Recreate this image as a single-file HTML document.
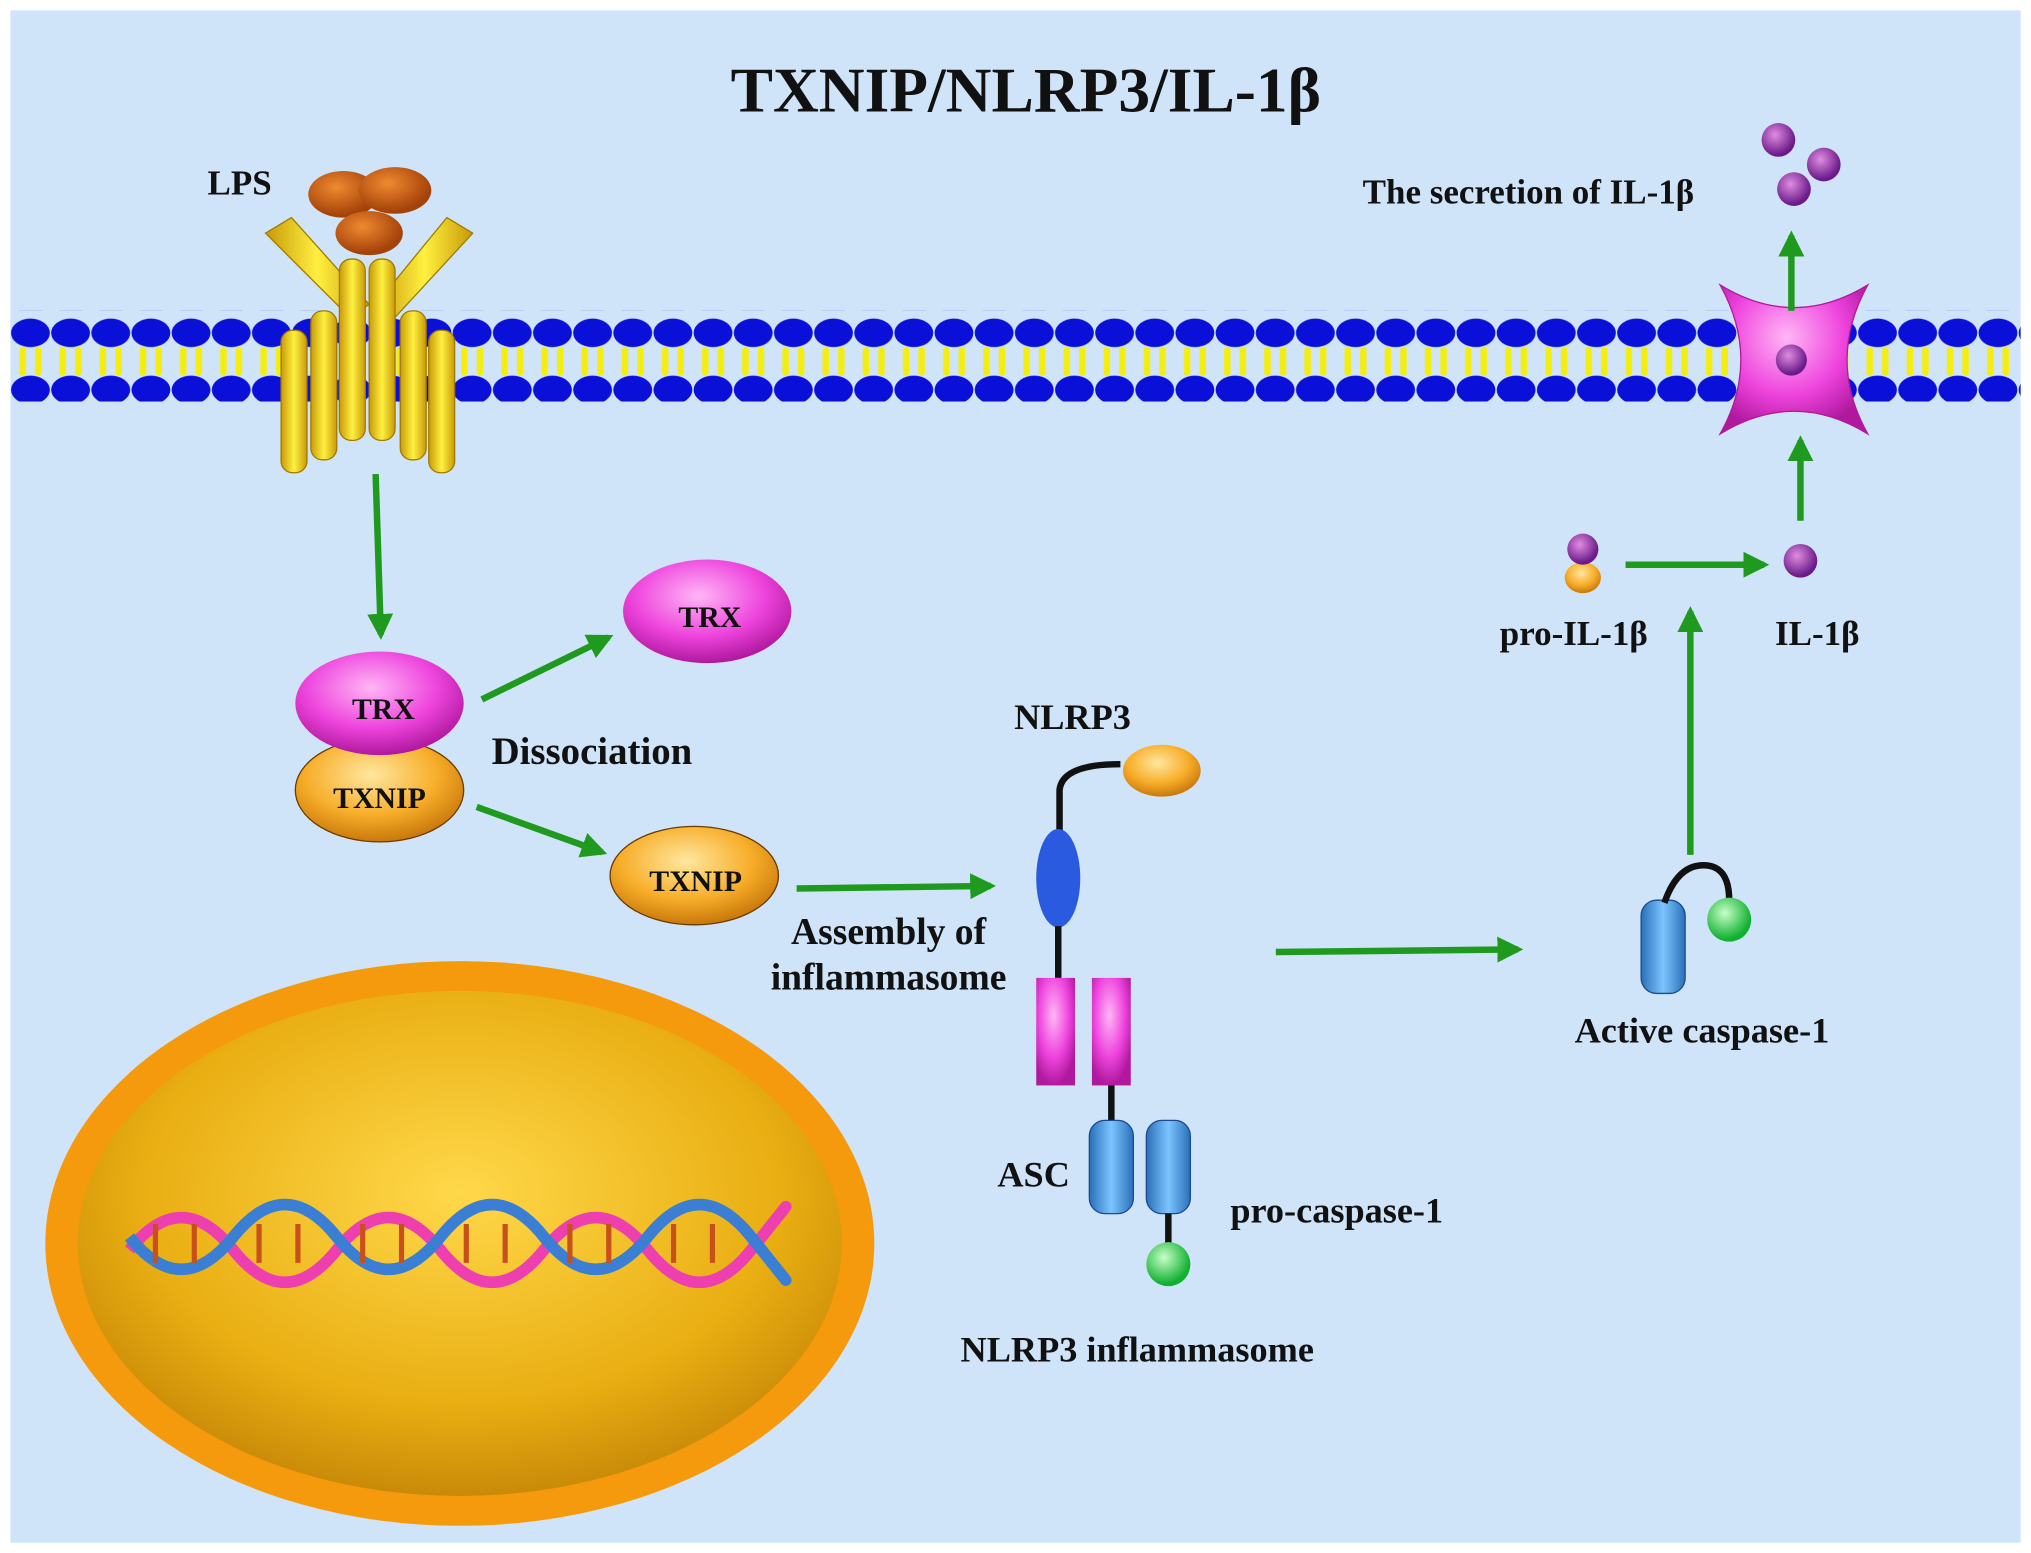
<!DOCTYPE html>
<html><head><meta charset="utf-8"><style>
html,body{margin:0;padding:0;background:#fff}
svg{display:block}
text{font-family:"Liberation Serif",serif;font-weight:bold;fill:#111}
</style></head><body>
<svg width="2031" height="1553" viewBox="0 0 1568 1199" preserveAspectRatio="none" xmlns="http://www.w3.org/2000/svg">
<defs>
<radialGradient id="nuc" cx="50%" cy="40%" r="60%"><stop offset="0" stop-color="#ffd84a"/><stop offset="0.7" stop-color="#e9ae12"/><stop offset="1" stop-color="#c98a08"/></radialGradient>
<radialGradient id="pink" cx="45%" cy="35%" r="65%"><stop offset="0" stop-color="#ffb6f6"/><stop offset="0.6" stop-color="#ee44dd"/><stop offset="1" stop-color="#b0189e"/></radialGradient>
<radialGradient id="org" cx="45%" cy="35%" r="65%"><stop offset="0" stop-color="#ffe7a0"/><stop offset="0.6" stop-color="#f7ae2a"/><stop offset="1" stop-color="#c9780a"/></radialGradient>
<radialGradient id="purp" cx="40%" cy="35%" r="60%"><stop offset="0" stop-color="#e08ce0"/><stop offset="1" stop-color="#6a1a8a"/></radialGradient>
<radialGradient id="brn" cx="40%" cy="35%" r="60%"><stop offset="0" stop-color="#f08a30"/><stop offset="1" stop-color="#a4420a"/></radialGradient>
<linearGradient id="yel" x1="0" x2="1"><stop offset="0" stop-color="#c89a08"/><stop offset="0.5" stop-color="#fff040"/><stop offset="1" stop-color="#c89a08"/></linearGradient>
<linearGradient id="cas" x1="0" x2="1"><stop offset="0" stop-color="#2a6fb8"/><stop offset="0.5" stop-color="#7cc4ff"/><stop offset="1" stop-color="#2a6fb8"/></linearGradient>
<radialGradient id="grn" cx="40%" cy="35%" r="60%"><stop offset="0" stop-color="#c8ffc8"/><stop offset="1" stop-color="#10b030"/></radialGradient>
<marker id="ah" viewBox="0 0 10 10" refX="8" refY="5" markerWidth="4" markerHeight="4" orient="auto"><path d="M0,0L10,5L0,10z" fill="#1f9a1f"/></marker>
<pattern id="mem" width="31" height="70" patternUnits="userSpaceOnUse" x="8" y="240">
<ellipse cx="15.5" cy="17" rx="15" ry="11" fill="#0a10d8"/>
<ellipse cx="15.5" cy="61" rx="15" ry="11" fill="#0a10d8"/>
<rect x="7" y="28" width="5" height="22" rx="2" fill="#f4ee10"/><rect x="19" y="28" width="5" height="22" rx="2" fill="#f4ee10"/>
</pattern>
</defs>
<rect width="1568" height="1199" fill="#fff"/>
<rect x="8" y="8" width="1552" height="1183" fill="#cfe4f8"/>
<rect x="8" y="240" width="1552" height="73" fill="url(#mem)"/>
<text x="792" y="86" font-size="49" text-anchor="middle">TXNIP/NLRP3/IL-1β</text>
<!-- LPS receptor -->
<text x="185" y="150" font-size="27" text-anchor="middle">LPS</text>
<g fill="url(#yel)" stroke="#a07a00" stroke-width="1">
<path d="M205,180 L225,168 L285,235 L270,245z"/><path d="M365,180 L345,168 L290,235 L305,245z"/>
<rect x="217" y="255" width="20" height="110" rx="9"/><rect x="240" y="240" width="20" height="115" rx="9"/><rect x="262" y="200" width="20" height="140" rx="9"/><rect x="285" y="200" width="20" height="140" rx="9"/><rect x="309" y="240" width="20" height="115" rx="9"/><rect x="331" y="255" width="20" height="110" rx="9"/>
</g>
<ellipse cx="265" cy="150" rx="27" ry="18" fill="url(#brn)"/><ellipse cx="305" cy="147" rx="28" ry="18" fill="url(#brn)"/><ellipse cx="285" cy="180" rx="26" ry="17" fill="url(#brn)"/>
<!-- channel -->
<path d="M1328,220 Q1385,255 1442,220 Q1410,278 1442,335 Q1385,300 1328,335 Q1360,278 1328,220z" fill="url(#pink)" stroke="#b0189e"/>
<circle cx="1383" cy="278" r="12" fill="url(#purp)"/>
<!-- arrows -->
<g stroke="#1f9a1f" stroke-width="5" fill="none" marker-end="url(#ah)">
<line x1="290" y1="366" x2="294" y2="490"/>
<line x1="372" y1="540" x2="470" y2="492"/>
<line x1="368" y1="623" x2="465" y2="658"/>
<line x1="615" y1="686" x2="765" y2="684"/>
<line x1="985" y1="735" x2="1172" y2="733"/>
<line x1="1305" y1="660" x2="1305" y2="472"/>
<line x1="1255" y1="436" x2="1362" y2="436"/>
<line x1="1390" y1="402" x2="1390" y2="340"/>
<line x1="1383" y1="240" x2="1383" y2="182"/>
</g>
<!-- IL-1b dots -->
<circle cx="1373" cy="108" r="13" fill="url(#purp)"/><circle cx="1408" cy="127" r="13" fill="url(#purp)"/><circle cx="1385" cy="146" r="13" fill="url(#purp)"/>
<circle cx="1390" cy="433" r="13" fill="url(#purp)"/>
<ellipse cx="1222" cy="446" rx="14" ry="12" fill="url(#org)"/><circle cx="1222" cy="424" r="12" fill="url(#purp)"/>
<text x="1180" y="157" font-size="27" text-anchor="middle">The secretion of IL-1β</text>
<text x="1215" y="498" font-size="27" text-anchor="middle">pro-IL-1β</text>
<text x="1403" y="498" font-size="27" text-anchor="middle">IL-1β</text>
<!-- TRX/TXNIP -->
<ellipse cx="293" cy="610" rx="65" ry="40" fill="url(#org)" stroke="#6a3a00"/>
<text x="293" y="624" font-size="23" text-anchor="middle">TXNIP</text>
<ellipse cx="293" cy="543" rx="65" ry="40" fill="url(#pink)"/>
<text x="296" y="555" font-size="23" text-anchor="middle">TRX</text>
<ellipse cx="546" cy="472" rx="65" ry="40" fill="url(#pink)"/>
<text x="548" y="484" font-size="23" text-anchor="middle">TRX</text>
<ellipse cx="536" cy="676" rx="65" ry="38" fill="url(#org)" stroke="#6a3a00"/>
<text x="537" y="688" font-size="23" text-anchor="middle">TXNIP</text>
<text x="457" y="590" font-size="30" text-anchor="middle">Dissociation</text>
<text x="686" y="729" font-size="29" text-anchor="middle">Assembly of</text>
<text x="686" y="764" font-size="29" text-anchor="middle">inflammasome</text>
<!-- NLRP3 -->
<text x="828" y="563" font-size="28" text-anchor="middle">NLRP3</text>
<path d="M818,650 L818,610 Q820,590 865,590" stroke="#111" stroke-width="5" fill="none"/>
<ellipse cx="897" cy="595" rx="30" ry="20" fill="url(#org)"/>
<ellipse cx="817" cy="678" rx="17" ry="38" fill="#2a5ae0"/>
<line x1="817" y1="715" x2="817" y2="755" stroke="#111" stroke-width="5"/>
<rect x="800" y="755" width="30" height="83" fill="url(#pink)"/>
<rect x="843" y="755" width="30" height="83" fill="url(#pink)"/>
<line x1="858" y1="838" x2="858" y2="868" stroke="#111" stroke-width="5"/>
<rect x="841" y="865" width="34" height="72" rx="12" fill="url(#cas)" stroke="#1a4a90"/>
<rect x="885" y="865" width="34" height="72" rx="12" fill="url(#cas)" stroke="#1a4a90"/>
<line x1="902" y1="937" x2="902" y2="962" stroke="#111" stroke-width="5"/>
<ellipse cx="902" cy="976" rx="17" ry="17" fill="url(#grn)"/>
<text x="798" y="916" font-size="28" text-anchor="middle">ASC</text>
<text x="1032" y="944" font-size="28" text-anchor="middle">pro-caspase-1</text>
<text x="878" y="1051" font-size="28" text-anchor="middle">NLRP3 inflammasome</text>
<!-- active caspase -->
<rect x="1267" y="695" width="34" height="72" rx="12" fill="url(#cas)" stroke="#1a4a90"/>
<path d="M1285,697 Q1295,668 1315,668 Q1335,668 1335,695" stroke="#111" stroke-width="5" fill="none"/>
<ellipse cx="1335" cy="710" rx="17" ry="17" fill="url(#grn)"/>
<text x="1314" y="805" font-size="28" text-anchor="middle">Active caspase-1</text>
<!-- nucleus -->
<ellipse cx="355" cy="960" rx="320" ry="218" fill="#f59a0c"/>
<ellipse cx="355" cy="960" rx="295" ry="195" fill="url(#nuc)"/>
<g stroke-width="9" fill="none">
<path d="M100,965 Q140,915 180,965 T260,965 T340,965 T420,965 T500,965 T580,965 T600,940" stroke="#ee3fb0"/>
<path d="M100,955 Q140,1005 180,955 T260,955 T340,955 T420,955 T500,955 T580,955 T600,980" stroke="#3b7fd4"/>
</g>
<g stroke="#c8501a" stroke-width="4">
<line x1="120" y1="945" x2="120" y2="975"/><line x1="150" y1="945" x2="150" y2="975"/><line x1="200" y1="945" x2="200" y2="975"/><line x1="230" y1="945" x2="230" y2="975"/><line x1="280" y1="945" x2="280" y2="975"/><line x1="310" y1="945" x2="310" y2="975"/><line x1="360" y1="945" x2="360" y2="975"/><line x1="390" y1="945" x2="390" y2="975"/><line x1="440" y1="945" x2="440" y2="975"/><line x1="470" y1="945" x2="470" y2="975"/><line x1="520" y1="945" x2="520" y2="975"/><line x1="550" y1="945" x2="550" y2="975"/>
</g>
</svg>
</body></html>
